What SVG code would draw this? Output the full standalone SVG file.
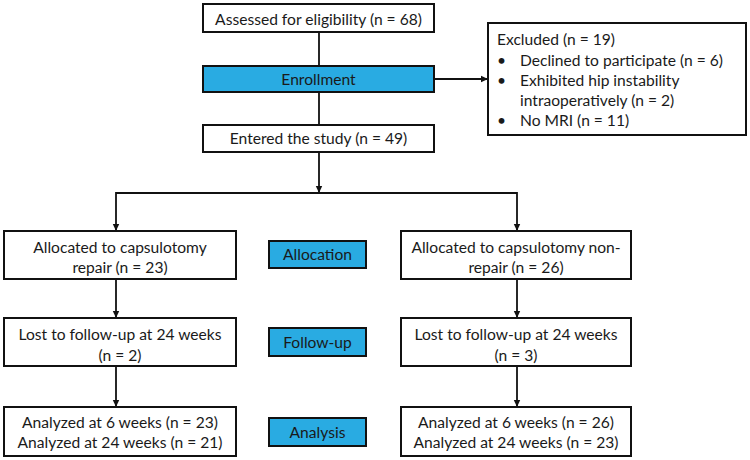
<svg xmlns="http://www.w3.org/2000/svg" width="750" height="460" viewBox="0 0 750 460">
<style>
.box{fill:#fff;stroke:#111;stroke-width:2}
.lab{fill:#29abe2;stroke:#111;stroke-width:2}
.t{font-family:Lato,"Liberation Sans",Arial,sans-serif;font-size:15.6px;fill:#1a1a1a}
.c{text-anchor:middle}
.ln{fill:none;stroke:#111;stroke-width:1.8}
</style>
<defs>
<marker id="ah" markerUnits="userSpaceOnUse" markerWidth="8" markerHeight="8" refX="7" refY="4" orient="auto">
<path d="M0,0.8 L7,4 L0,7.2 Z" fill="#111"/>
</marker>
</defs>
<rect width="750" height="460" fill="#fff"/>
<g id="connectors">
<path class="ln" d="M319,32 V66"/>
<path class="ln" d="M319,92 V125"/>
<path class="ln" d="M434,79 H488" marker-end="url(#ah)"/>
<path class="ln" d="M319,152 V193" marker-end="url(#ah)"/>
<path class="ln" d="M116,193 H517"/>
<path class="ln" d="M116,192 V231" marker-end="url(#ah)"/>
<path class="ln" d="M517,192 V231" marker-end="url(#ah)"/>
<path class="ln" d="M116,279 V318" marker-end="url(#ah)"/>
<path class="ln" d="M517,279 V318" marker-end="url(#ah)"/>
<path class="ln" d="M116,366 V407" marker-end="url(#ah)"/>
<path class="ln" d="M517,366 V407" marker-end="url(#ah)"/>
</g>
<g id="assessed">
<rect class="box" x="203" y="4" width="231" height="28"/>
<text class="t c" x="318.5" y="24.5">Assessed for eligibility (n = 68)</text>
</g>
<g id="enrollment">
<rect class="lab" x="203" y="66" width="231" height="26"/>
<text class="t c" x="318.5" y="84.5">Enrollment</text>
</g>
<g id="excluded">
<rect class="box" x="488" y="23" width="258" height="112"/>
<text class="t" x="497" y="44.5">Excluded (n = 19)</text>
<text class="t" x="497" y="65.5">•</text>
<text class="t" x="520" y="65.5">Declined to participate (n = 6)</text>
<text class="t" x="497" y="85.5">•</text>
<text class="t" x="520" y="85.5">Exhibited hip instability</text>
<text class="t" x="520" y="105.5">intraoperatively (n = 2)</text>
<text class="t" x="497" y="126">•</text>
<text class="t" x="520" y="126">No MRI (n = 11)</text>
</g>
<g id="entered">
<rect class="box" x="203" y="125" width="231" height="27"/>
<text class="t c" x="318.5" y="144">Entered the study (n = 49)</text>
</g>
<g id="alloc-repair">
<rect class="box" x="4" y="231" width="232" height="48"/>
<text class="t c" x="120" y="252.5">Allocated to capsulotomy</text>
<text class="t c" x="120" y="272.5">repair (n = 23)</text>
</g>
<g id="allocation">
<rect class="lab" x="269" y="241" width="97" height="27"/>
<text class="t c" x="317.5" y="260">Allocation</text>
</g>
<g id="alloc-nonrepair">
<rect class="box" x="401" y="231" width="230" height="48"/>
<text class="t c" x="516" y="252.5">Allocated to capsulotomy non-</text>
<text class="t c" x="516" y="272.5">repair (n = 26)</text>
</g>
<g id="lost-repair">
<rect class="box" x="4" y="318" width="232" height="48"/>
<text class="t c" x="120" y="339.5">Lost to follow-up at 24 weeks</text>
<text class="t c" x="120" y="360.5">(n = 2)</text>
</g>
<g id="followup">
<rect class="lab" x="269" y="328" width="97" height="28"/>
<text class="t c" x="317.5" y="347.5">Follow-up</text>
</g>
<g id="lost-nonrepair">
<rect class="box" x="401" y="318" width="230" height="48"/>
<text class="t c" x="516" y="339.5">Lost to follow-up at 24 weeks</text>
<text class="t c" x="516" y="360.5">(n = 3)</text>
</g>
<g id="analyzed-repair">
<rect class="box" x="4" y="407" width="232" height="49"/>
<text class="t c" x="120" y="427.5">Analyzed at 6 weeks (n = 23)</text>
<text class="t c" x="120" y="447.5">Analyzed at 24 weeks (n = 21)</text>
</g>
<g id="analysis">
<rect class="lab" x="269" y="418" width="97" height="28"/>
<text class="t c" x="317.5" y="437.5">Analysis</text>
</g>
<g id="analyzed-nonrepair">
<rect class="box" x="401" y="407" width="230" height="49"/>
<text class="t c" x="516" y="427.5">Analyzed at 6 weeks (n = 26)</text>
<text class="t c" x="516" y="447.5">Analyzed at 24 weeks (n = 23)</text>
</g>
</svg>
